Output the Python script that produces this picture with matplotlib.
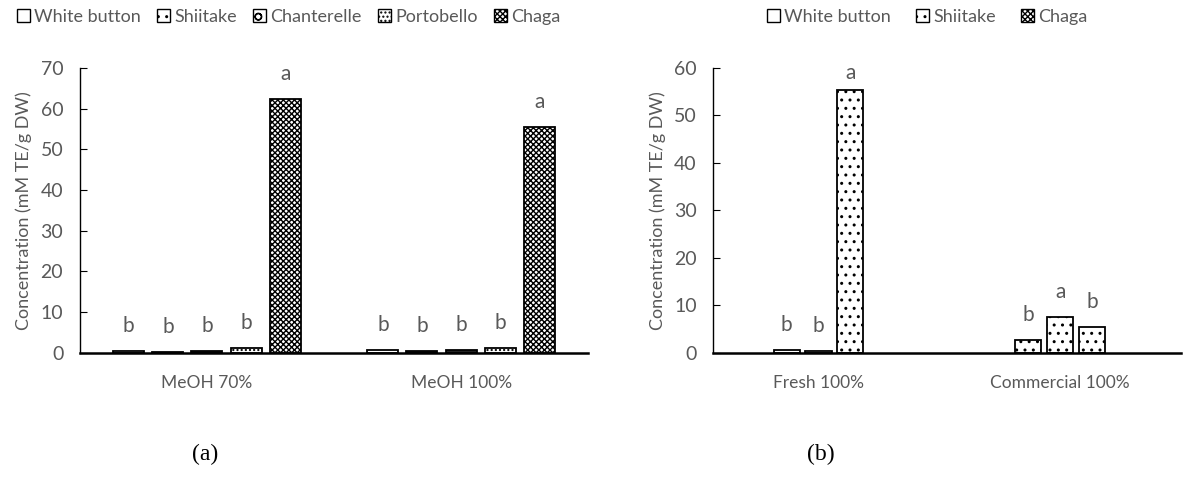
import numpy as np
import matplotlib.pyplot as plt
from matplotlib.patches import Patch

plt.rcParams['font.family'] = ['Lato', 'DejaVu Sans']
plt.rcParams['hatch.linewidth'] = 1.0

grey = '#595959'

# panel (a)
cats_a = ['MeOH 70%', 'MeOH 100%']
series_a = ['White button', 'Shiitake', 'Chanterelle', 'Portobello', 'Chaga']
white_a = [0.4, 0.6]
shiitake_a = [0.2, 0.5]
chanterelle_a = [0.4, 0.6]
portobello_a = [1.2, 1.3]
chaga_a = [62.4, 55.4]
letters_a = [['b', 'b'], ['b', 'b'], ['b', 'b'], ['b', 'b'], ['a', 'a']]

# panel (b)
cats_b = ['Fresh 100%', 'Commercial 100%']
series_b = ['White button', 'Shiitake', 'Chaga']
white_b = [0.6, 2.8]
shiitake_b = [0.3, 7.6]
chaga_b = [55.3, 5.5]
letters_b = [['b', 'b'], ['b', 'a'], ['a', 'b']]

fig = plt.figure(figsize=(11.93, 4.88), dpi=100)
ax1 = fig.add_axes([0.067, 0.277, 0.426, 0.584])
ax2 = fig.add_axes([0.598, 0.277, 0.392, 0.584])

hatch_a = ['', '', '', '....', 'xxxxxx']
face_a = ['white', '#222222', '#222222', 'white', 'white']
vals_a = [white_a, shiitake_a, chanterelle_a, portobello_a, chaga_a]
x = np.arange(len(cats_a))
step = 0.154
w = 0.122
for i, v in enumerate(vals_a):
    pos = x + (i - 2) * step
    ax1.bar(pos, v, w, color=face_a[i], edgecolor='black', hatch=hatch_a[i], linewidth=1.3)
    for p, val, lab in zip(pos, v, letters_a[i]):
        ax1.annotate(lab, (p, val), xytext=(0, 18), textcoords='offset points',
                     ha='center', va='center', fontsize=15, color=grey)

# hatch per bar in panel (b)
hatch_b = [['', '..'], ['', '..'], ['..', '..']]
off_b = [[18, 18], [18, 18], [12, 18]]
vals_b = [white_b, shiitake_b, chaga_b]
stepb = 0.132
wb = 0.108
for i, v in enumerate(vals_b):
    pos = x + (i - 1) * stepb
    for j, (p, val) in enumerate(zip(pos, v)):
        ax2.bar(p, val, wb, color='white', edgecolor='black', hatch=hatch_b[i][j], linewidth=1.3)
        ax2.annotate(letters_b[i][j], (p, val), xytext=(0, off_b[i][j]), textcoords='offset points',
                     ha='center', va='center', fontsize=15, color=grey)

for ax, top, cats in [(ax1, 70, cats_a), (ax2, 60, cats_b)]:
    ax.set_ylim(0, top)
    ax.set_yticks(np.arange(0, top + 1, 10))
    ax.set_xticks(x)
    ax.set_xticklabels(cats, color=grey, fontsize=12.5)
    ax.tick_params(axis='x', length=0, pad=16)
    ax.tick_params(axis='y', direction='in', length=5, labelsize=14, labelcolor=grey, pad=12)
    ax.spines['top'].set_visible(False)
    ax.spines['right'].set_visible(False)
    ax.spines['left'].set_linewidth(1.0)
    ax.spines['bottom'].set_linewidth(1.8)
    ax.set_ylabel('Concentration (mM TE/g DW)', color=grey, fontsize=13, labelpad=6)

ax1.set_xlim(-0.5, 1.5)
ax2.set_xlim(-0.435, 1.5)

leg_a = [Patch(facecolor='white', edgecolor='black', hatch=hatch_a[i], label=s)
         for i, s in enumerate(series_a)]
leg_a[1].set_hatch('..')
leg_a[2].set_hatch('o')
fig.legend(handles=leg_a, loc='center left', bbox_to_anchor=(0.008, 0.965), ncol=5,
           frameon=False, fontsize=13, handlelength=0.75, handleheight=0.75,
           handletextpad=0.2, columnspacing=0.9, labelcolor=grey, borderaxespad=0)

hatch_leg_b = ['', '..', 'xxxxxx']
leg_b = [Patch(facecolor='white', edgecolor='black', hatch=hatch_leg_b[i], label=s)
         for i, s in enumerate(series_b)]
fig.legend(handles=leg_b, loc='center', bbox_to_anchor=(0.777, 0.965), ncol=3,
           frameon=False, fontsize=13, handlelength=0.75, handleheight=0.75,
           handletextpad=0.2, columnspacing=1.4, labelcolor=grey, borderaxespad=0)

fig.text(0.172, 0.068, '(a)', family='Liberation Serif', fontsize=17, ha='center', va='center')
fig.text(0.688, 0.068, '(b)', family='Liberation Serif', fontsize=17, ha='center', va='center')

fig.savefig('out.png', dpi=100)
